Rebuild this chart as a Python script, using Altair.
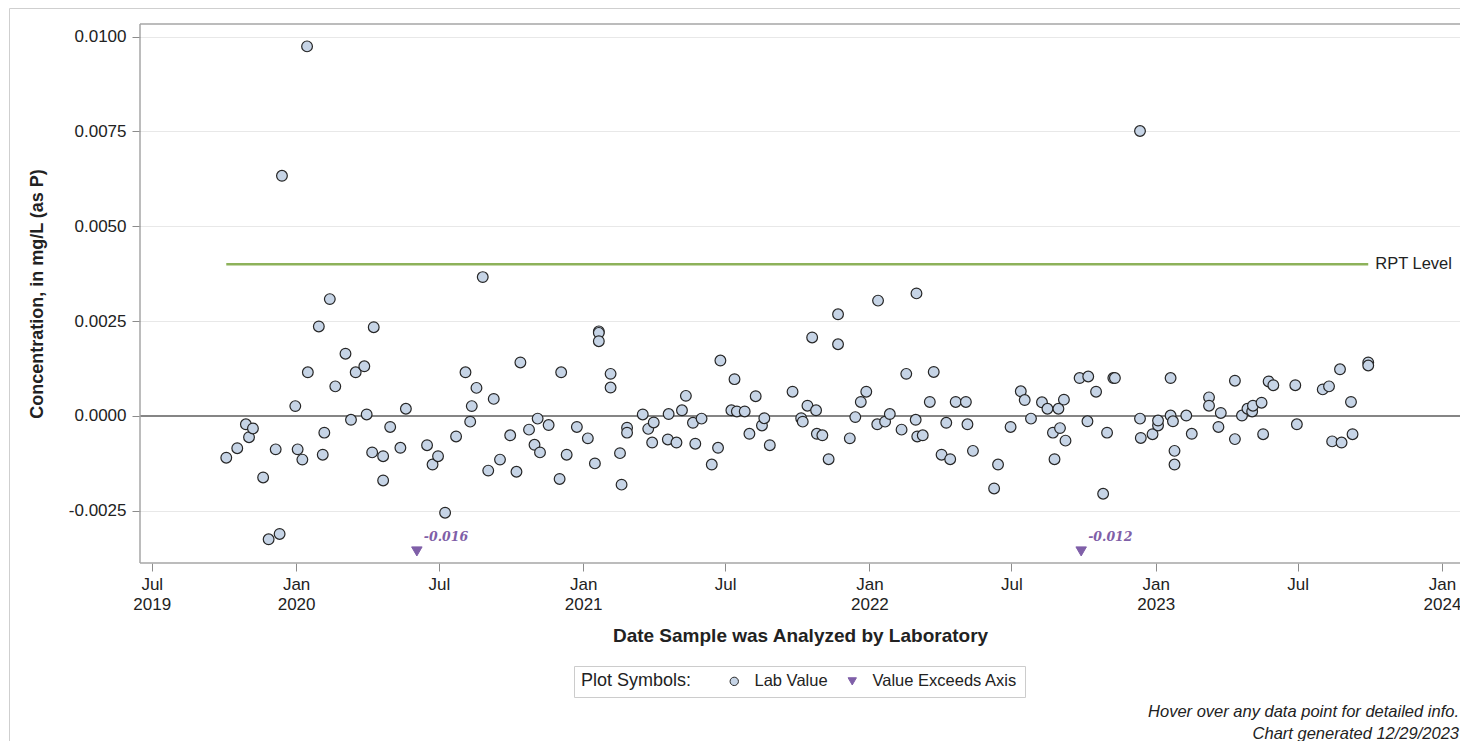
import pandas as pd
import altair as alt

# lab values (date analyzed, mg/L as P)
dates = [
    "2019-10-04", "2019-10-18", "2019-10-29", "2019-11-02", "2019-11-07", "2019-11-20",
    "2019-11-27", "2019-12-06", "2019-12-11", "2019-12-14", "2019-12-31",
    "2020-01-03", "2020-01-09", "2020-01-15", "2020-01-16", "2020-01-30", "2020-02-04",
    "2020-02-06", "2020-02-13", "2020-02-20", "2020-03-04", "2020-03-11", "2020-03-17",
    "2020-03-28", "2020-03-31", "2020-04-07", "2020-04-09", "2020-04-21", "2020-04-21",
    "2020-04-30", "2020-05-13", "2020-05-20", "2020-06-16", "2020-06-23", "2020-06-30",
    "2020-07-09", "2020-07-23", "2020-08-04", "2020-08-10", "2020-08-12", "2020-08-18",
    "2020-08-26", "2020-09-02", "2020-09-09", "2020-09-17", "2020-09-30", "2020-10-08",
    "2020-10-13", "2020-10-24", "2020-10-31", "2020-11-04", "2020-11-07", "2020-11-18",
    "2020-12-02", "2020-12-04", "2020-12-11", "2020-12-24",
    "2021-01-07", "2021-01-16", "2021-01-21", "2021-01-21", "2021-01-21", "2021-02-05",
    "2021-02-05", "2021-02-17", "2021-02-19", "2021-02-26", "2021-02-26", "2021-03-18",
    "2021-03-25", "2021-03-30", "2021-04-01", "2021-04-19", "2021-04-20", "2021-04-30",
    "2021-05-07", "2021-05-12", "2021-05-21", "2021-05-24", "2021-06-01", "2021-06-14",
    "2021-06-22", "2021-06-25", "2021-07-09", "2021-07-13", "2021-07-16", "2021-07-26",
    "2021-08-01", "2021-08-09", "2021-08-17", "2021-08-20", "2021-08-27", "2021-09-25",
    "2021-10-06", "2021-10-08", "2021-10-14", "2021-10-20", "2021-10-25", "2021-10-26",
    "2021-11-02", "2021-11-10", "2021-11-22", "2021-11-22", "2021-12-07", "2021-12-14",
    "2021-12-21", "2021-12-28",
    "2022-01-11", "2022-01-12", "2022-01-21", "2022-01-27", "2022-02-11", "2022-02-17",
    "2022-03-01", "2022-03-02", "2022-03-03", "2022-03-10", "2022-03-19", "2022-03-24",
    "2022-04-03", "2022-04-09", "2022-04-14", "2022-04-21", "2022-05-04", "2022-05-06",
    "2022-05-13", "2022-06-09", "2022-06-14", "2022-06-30", "2022-07-13", "2022-07-18",
    "2022-07-26", "2022-08-09", "2022-08-16", "2022-08-23", "2022-08-25", "2022-08-30",
    "2022-09-01", "2022-09-06", "2022-09-08", "2022-09-26", "2022-10-06", "2022-10-07",
    "2022-10-17", "2022-10-26", "2022-10-31", "2022-11-08", "2022-11-10", "2022-12-12",
    "2022-12-12", "2022-12-13", "2022-12-28",
    "2023-01-04", "2023-01-04", "2023-01-20", "2023-01-20", "2023-01-23", "2023-01-25",
    "2023-01-25", "2023-02-09", "2023-02-16", "2023-03-10", "2023-03-10", "2023-03-22",
    "2023-03-25", "2023-04-12", "2023-04-12", "2023-04-21", "2023-04-28", "2023-05-04",
    "2023-05-05", "2023-05-16", "2023-05-18", "2023-05-25", "2023-05-31", "2023-06-28",
    "2023-06-30", "2023-08-02", "2023-08-10", "2023-08-14", "2023-08-24", "2023-08-26",
    "2023-09-07", "2023-09-09", "2023-09-29", "2023-09-29",
]
values = [
    -0.00110, -0.00085, -0.00022, -0.00056, -0.00033, -0.00162,
    -0.00325, -0.00088, -0.00311, 0.00633, 0.00026,
    -0.00088, -0.00115, 0.00974, 0.00115, 0.00236, -0.00102,
    -0.00044, 0.00308, 0.00078, 0.00164, -0.00010, 0.00115,
    0.00131, 0.00004, -0.00096, 0.00234, -0.00106, -0.00170,
    -0.00029, -0.00084, 0.00019, -0.00077, -0.00128, -0.00106,
    -0.00255, -0.00054, 0.00115, -0.00015, 0.00026, 0.00074,
    0.00366, -0.00144, 0.00045, -0.00115, -0.00051, -0.00147,
    0.00141, -0.00036, -0.00076, -0.00007, -0.00096, -0.00024,
    -0.00166, 0.00115, -0.00102, -0.00029,
    -0.00059, -0.00125, 0.00223, 0.00219, 0.00197, 0.00111,
    0.00075, -0.00098, -0.00181, -0.00031, -0.00044, 0.00004,
    -0.00034, -0.00070, -0.00017, -0.00062, 0.00005, -0.00070,
    0.00015, 0.00053, -0.00018, -0.00073, -0.00007, -0.00128,
    -0.00084, 0.00146, 0.00015, 0.00097, 0.00012, 0.00012,
    -0.00047, 0.00052, -0.00025, -0.00006, -0.00077, 0.00064,
    -0.00006, -0.00015, 0.00027, 0.00207, 0.00015, -0.00047,
    -0.00051, -0.00114, 0.00268, 0.00189, -0.00059, -0.00003,
    0.00037, 0.00064,
    -0.00022, 0.00304, -0.00015, 0.00005, -0.00036, 0.00111,
    -0.00010, 0.00323, -0.00054, -0.00051, 0.00037, 0.00116,
    -0.00102, -0.00018, -0.00114, 0.00037, 0.00037, -0.00022,
    -0.00092, -0.00191, -0.00128, -0.00029, 0.00065, 0.00042,
    -0.00007, 0.00036, 0.00019, -0.00044, -0.00114, 0.00019,
    -0.00032, 0.00043, -0.00065, 0.00100, -0.00014, 0.00104,
    0.00064, -0.00205, -0.00044, 0.00100, 0.00100, -0.00007,
    0.00751, -0.00058, -0.00048,
    -0.00025, -0.00012, 0.00100, 0.00001, -0.00014, -0.00092,
    -0.00128, 0.00001, -0.00047, 0.00049, 0.00027, -0.00029,
    0.00008, 0.00093, -0.00061, 0.00001, 0.00019, 0.00012,
    0.00027, 0.00035, -0.00048, 0.00091, 0.00081, 0.00081,
    -0.00022, 0.00070, 0.00078, -0.00067, 0.00123, -0.00070,
    0.00037, -0.00048, 0.00141, 0.00133,
]

# values below the axis, drawn as triangles at the bottom
exceed_dates = ["2020-06-03", "2022-09-28"]
exceed_values = [-0.016, -0.012]
exceed_labels = ["-0.016", "-0.012"]
axis_floor = -0.00357

rpt_level = 0.004
kinds = ["Lab Value", "Value Exceeds Axis"]
y_ticks = [-0.0025, 0.0, 0.0025, 0.005, 0.0075, 0.01]
x_ticks = [(2019, 7), (2020, 1), (2020, 7), (2021, 1), (2021, 7), (2022, 1),
           (2022, 7), (2023, 1), (2023, 7), (2024, 1)]
notes = ["Hover over any data point for detailed info.", "Chart generated 12/29/2023"]

W, H = 1320, 539
purple = "#7f5fa8"
ink = "#222222"
border = "#a6a6a6"

lab = pd.DataFrame({"date": dates, "value": values, "kind": kinds[0]})
exceed = pd.DataFrame({"date": exceed_dates, "actual": exceed_values,
                       "label": exceed_labels, "kind": kinds[1]})
rpt = pd.DataFrame({"date": [dates[0], dates[-1]], "value": [rpt_level, rpt_level],
                    "label": ["", "RPT Level"]})

x_enc = alt.X(
    "date:T",
    scale=alt.Scale(type="utc", nice=False, domain=[
        alt.DateTime(year=2019, month=6, date=16, utc=True),
        alt.DateTime(year=2024, month=1, date=24, utc=True),
    ]),
    axis=alt.Axis(
        title="Date Sample was Analyzed by Laboratory",
        values=[alt.DateTime(year=y, month=m, date=1, utc=True) for y, m in x_ticks],
        labelExpr="utcmonth(datum.value) == 0 || utcyear(datum.value) == 2019"
                  " ? [utcFormat(datum.value, '%b'), utcFormat(datum.value, '%Y')]"
                  " : utcFormat(datum.value, '%b')",
        grid=False, domain=False, tickSize=8, tickColor="#8c8c8c",
        labelFontSize=17, labelLineHeight=20, labelPadding=5, labelColor=ink,
        labelOverlap=False, labelFlush=False,
        titleFontSize=19, titleFontWeight="bold", titleColor=ink,
        titleY=72, titleBaseline="middle",
    ),
)
y_enc = alt.Y(
    "value:Q",
    scale=alt.Scale(domain=[-0.003875, 0.01033], nice=False, zero=False),
    axis=alt.Axis(
        title="Concentration, in mg/L (as P)",
        values=y_ticks,
        labelExpr="replace(format(datum.value, '.4f'), '\u2212', '-')",
        grid=True, gridColor="#e8e8e8", domain=False,
        tickSize=8, tickColor="#8c8c8c",
        labelFontSize=17, labelPadding=6, labelColor=ink,
        titleFontSize=18, titleFontWeight="bold", titleColor=ink,
        titleX=-103, titleY=H / 2, titleAngle=270,
        titleAlign="center", titleBaseline="middle",
    ),
)

legend = alt.Legend(
    title="Plot Symbols:", orient="none", legendX=434, legendY=642,
    direction="horizontal", titleOrient="left", titleBaseline="middle",
    strokeColor="#cccccc", padding=7, titlePadding=34,
    labelOffset=12, columnPadding=16, symbolSize=70, symbolStrokeWidth=1,
    labelFontSize=16.5, titleFontSize=18, titleFontWeight="normal",
    labelColor=ink, titleColor=ink, labelLimit=300,
)
shape = alt.Shape("kind:N", scale=alt.Scale(domain=kinds, range=["circle", "triangle-down"]),
                  legend=legend)
fill = alt.Fill("kind:N", scale=alt.Scale(domain=kinds, range=["#c6d4e6", purple]),
                legend=legend)
stroke = alt.Stroke("kind:N", scale=alt.Scale(domain=kinds, range=["#262626", purple]),
                    legend=legend)

one = pd.DataFrame({"f": [0]})
frame = alt.Chart(one).mark_rect(
    fillOpacity=0, stroke="#cfcfcf", strokeWidth=1
).encode(x=alt.value(-130.5), x2=alt.value(W + 60), y=alt.value(-15.5), y2=alt.value(H + 240))

# plot box: top, left and bottom edges (the right edge falls outside the picture)
box_top = alt.Chart(one).mark_rule(color=border, strokeWidth=1.5).encode(
    x=alt.value(0), x2=alt.value(W + 10), y=alt.value(0))
box_left = alt.Chart(one).mark_rule(color=border, strokeWidth=1.5).encode(
    x=alt.value(0), y=alt.value(0), y2=alt.value(H))
box_bottom = alt.Chart(one).mark_rule(color=border, strokeWidth=1.5).encode(
    x=alt.value(0), x2=alt.value(W + 10), y=alt.value(H))

rpt_line = alt.Chart(rpt).mark_line(color="#8db25a", strokeWidth=2.5).encode(x=x_enc, y=y_enc)
rpt_text = alt.Chart(rpt).mark_text(
    align="left", baseline="middle", dx=7, fontSize=16.5, color=ink
).encode(x=x_enc, y=y_enc, text="label:N")

zero = alt.Chart(pd.DataFrame({"value": [0.0]})).mark_rule(
    color="#858585", strokeWidth=2
).encode(y=y_enc)

points = alt.Chart(lab).mark_point(filled=True, opacity=1, size=115, strokeWidth=1.2).encode(
    x=x_enc, y=y_enc, shape=shape, fill=fill, stroke=stroke
)

below = alt.Chart(exceed).transform_calculate(value=f"max(datum.actual, {axis_floor})")
triangles = below.mark_point(filled=True, opacity=1, size=110, strokeWidth=1).encode(
    x=x_enc, y=y_enc, shape=shape, fill=fill, stroke=stroke
)
tri_text = below.mark_text(
    align="left", baseline="middle", dx=7, dy=-14, font="DejaVu Serif",
    fontSize=12.5, fontStyle="italic", fontWeight="bold", color=purple
).encode(x=x_enc, y=y_enc, text="label:N")

note1 = alt.Chart(pd.DataFrame({"note": notes[:1]})).mark_text(
    align="right", baseline="middle", fontSize=16.5, fontStyle="italic", color=ink
).encode(x=alt.value(W - 1), y=alt.value(688), text="note:N")
note2 = alt.Chart(pd.DataFrame({"note": notes[1:]})).mark_text(
    align="right", baseline="middle", fontSize=16.5, fontStyle="italic", color=ink
).encode(x=alt.value(W - 1), y=alt.value(710), text="note:N")

chart = (
    alt.layer(frame, rpt_line, rpt_text, zero, box_top, box_left, box_bottom,
              points, triangles, tri_text, note1, note2)
    .properties(
        width=W,
        height=H,
        autosize=alt.AutoSizeParams(type="none"),
        padding={"left": 132, "top": 16, "right": 0, "bottom": 178},
    )
    .configure(font="Liberation Sans")
    .configure_view(strokeWidth=0)
)

chart.save("out.html", embed_options={"renderer": "svg", "actions": False})
